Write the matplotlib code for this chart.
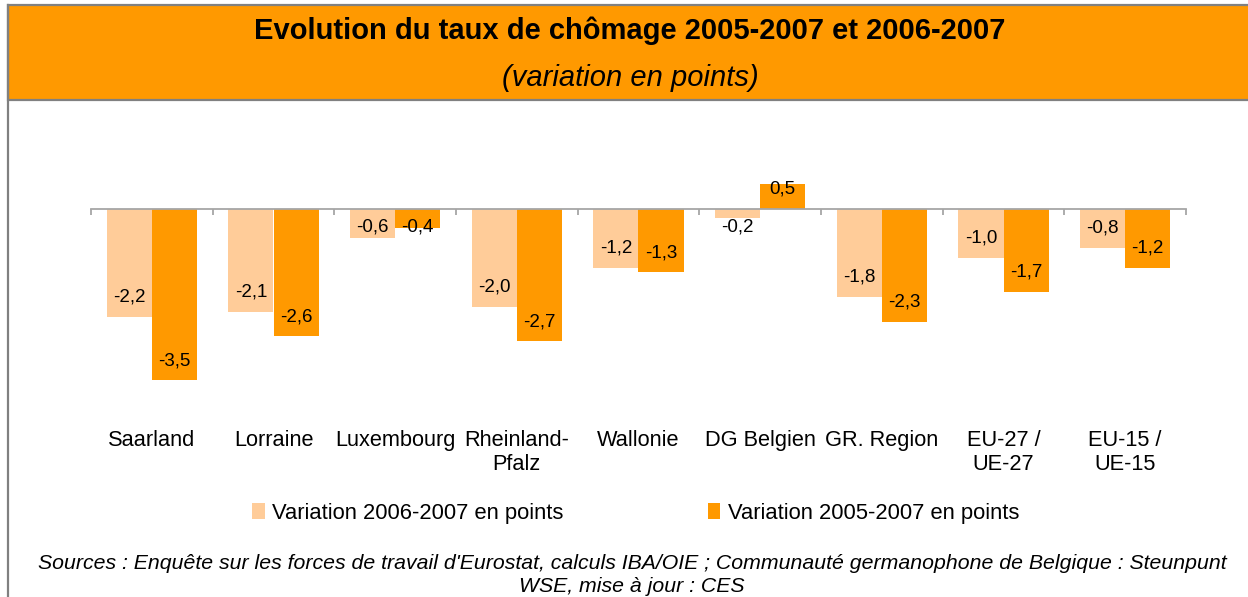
import numpy as np
import matplotlib.pyplot as plt
import matplotlib.patches as mpatches
from matplotlib.lines import Line2D

plt.rcParams['font.family'] = ['Liberation Sans', 'DejaVu Sans']

categories = ['Saarland', 'Lorraine', 'Luxembourg', 'Rheinland-\nPfalz', 'Wallonie',
              'DG Belgien', 'GR. Region', 'EU-27 /\nUE-27', 'EU-15 /\nUE-15']
var_0607 = [-2.2, -2.1, -0.6, -2.0, -1.2, -0.2, -1.8, -1.0, -0.8]
var_0507 = [-3.5, -2.6, -0.4, -2.7, -1.3, 0.5, -2.3, -1.7, -1.2]
series_names = ['Variation 2006-2007 en points', 'Variation 2005-2007 en points']
colors = ['#FFCC99', '#FF9900']

W, H = 1248, 597
fig = plt.figure(figsize=(W / 100, H / 100), dpi=100)

def fx(px):
    return px / W

def fy(py):
    return 1 - py / H

# header band
hdr = mpatches.Rectangle((fx(8), fy(100)), 1.2, fy(5) - fy(100), transform=fig.transFigure,
                         facecolor='#FF9900', edgecolor='#808080', linewidth=1.6)
fig.patches.append(hdr)
fig.lines.append(Line2D([fx(8), fx(8)], [fy(5), -0.1], transform=fig.transFigure,
                        color='#808080', linewidth=1.6))
fig.text(fx(630), fy(31), 'Evolution du taux de chômage 2005-2007 et 2006-2007',
         ha='center', va='center', fontsize=21, fontweight='bold')
fig.text(fx(630), fy(78), '(variation en points)', ha='center', va='center',
         fontsize=21, style='italic')

ax = fig.add_axes([fx(91), fy(405), fx(1186) - fx(91), fy(130) - fy(405)])
x = np.arange(len(categories))
w = 0.37
b1 = ax.bar(x - w / 2, var_0607, w, color=colors[0], label=series_names[0])
b2 = ax.bar(x + w / 2, var_0507, w, color=colors[1], label=series_names[1])
ax.set_xlim(-0.5, len(categories) - 0.5)
ax.set_ylim(-4, 1.6)

for s in ['top', 'right', 'left']:
    ax.spines[s].set_visible(False)
ax.spines['bottom'].set_position(('data', 0))
ax.spines['bottom'].set_color('#A6A6A6')
ax.spines['bottom'].set_linewidth(1.3)
ax.set_yticks([])
ax.set_xticks(np.arange(len(categories) + 1) - 0.5)
ax.set_xticklabels([])
ax.tick_params(axis='x', direction='out', length=4.5, color='#A6A6A6', width=1.3)

sec = ax.secondary_xaxis('bottom')
sec.set_xticks(x, categories)
sec.tick_params(length=0, pad=18, labelsize=15.7)
sec.spines['bottom'].set_visible(False)

for bars, vals in [(b1, var_0607), (b2, var_0507)]:
    for rect, v in zip(bars, vals):
        cx = rect.get_x() + rect.get_width() / 2
        if v < 0:
            ty = min(v + 0.4, -0.37)
        else:
            ty = max(v - 0.4, 0.4)
        ax.text(cx, ty, f'{v:.1f}'.replace('.', ','), ha='center', va='center', fontsize=13.5)

fig.legend(handles=[b1, b2], labels=series_names, loc='center', bbox_to_anchor=(fx(636), fy(513)),
           ncol=2, frameon=False, fontsize=15.8, handlelength=0.55, handleheight=0.75,
           handletextpad=0.35, columnspacing=6.6)

fig.text(fx(632), fy(575),
         "Sources : Enquête sur les forces de travail d'Eurostat, calculs IBA/OIE ; "
         "Communauté germanophone de Belgique : Steunpunt\nWSE, mise à jour : CES",
         ha='center', va='center', fontsize=15.3, style='italic', linespacing=1.28)

fig.savefig('out.png', dpi=100)
